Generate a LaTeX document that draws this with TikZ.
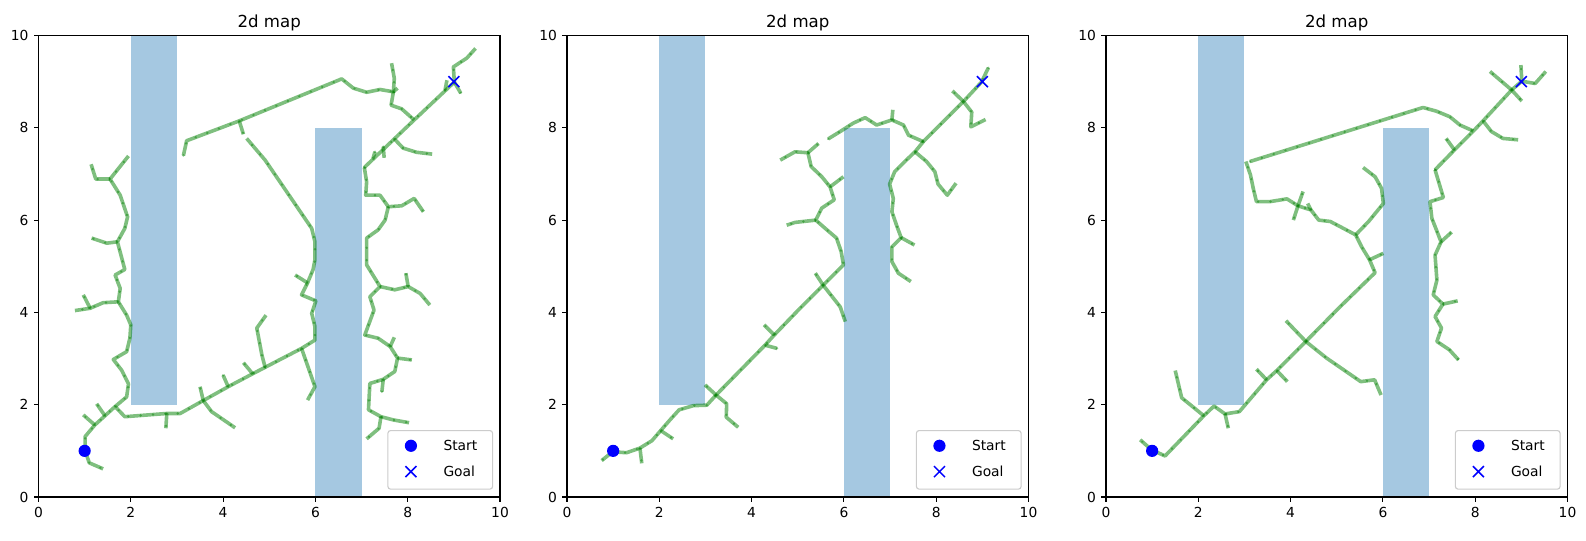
\documentclass[tikz,border=0pt]{standalone}
\usepackage{fontspec}
\setmainfont{DejaVu Sans}
\usetikzlibrary{shapes.misc}
\definecolor{ObstBlue}{HTML}{A5C8E1}
\definecolor{TreeGreen}{HTML}{008000}
\definecolor{MarkBlue}{HTML}{0000FF}
\definecolor{LegEdge}{HTML}{CCCCCC}

% obstacles of the 2d map
\newcommand{\mapobst}{%
  \fill[obst] (2,2) rectangle (3,10);
  \fill[obst] (6,0) rectangle (7,8);
}
% frame, ticks, title, start/goal and legend of one panel
\newcommand{\mapaxes}[1]{%
  \draw[spine] (0,0) rectangle (10,10);
  \foreach \t in {0,2,...,10} {
    \draw[tickmark] (\t,0) -- (\t,-0.105);
    \draw[tickmark] (0,\t) -- (-0.105,\t);
    \node[ticklbl,anchor=north] (#1x\t) at (\t,-0.21) {\t};
    \node[ticklbl,anchor=east] (#1y\t) at (-0.21,\t) {\t};
  }
  \node[title] (#1title) at (5,10.18) {2d map};
  \node[startdot] (#1start) at (1,1) {};
  \node[goalx] (#1goal) at (9,9) {};
  \draw[legframe] (7.57,0.17) rectangle (9.84,1.44);
  \node[startdot] (#1legs) at (8.07,1.11) {};
  \node[goalx] (#1legg) at (8.07,0.55) {};
  \node[legtext] (#1legst) at (8.77,1.11) {Start};
  \node[legtext] (#1leggo) at (8.77,0.55) {Goal};
}

\begin{document}
\begin{tikzpicture}[
  obst/.style={fill=ObstBlue},
  tree/.style={draw=TreeGreen,draw opacity=0.5,line width=2.6pt,line join=round,
    postaction={draw=TreeGreen,draw opacity=0.45,line width=1.9pt,line cap=round,dash pattern=on 0.05pt off 8.9pt}},
  spine/.style={draw=black,line width=0.8pt},
  tickmark/.style={draw=black,line width=0.8pt},
  ticklbl/.style={inner sep=0pt,font=\fontsize{10}{12}\selectfont},
  title/.style={anchor=base,inner sep=0pt,font=\fontsize{12}{14}\selectfont},
  startdot/.style={circle,fill=MarkBlue,inner sep=0pt,minimum size=3.1mm},
  goalx/.style={cross out,draw=MarkBlue,line width=1.1pt,inner sep=0pt,minimum size=2.4mm},
  legframe/.style={draw=LegEdge,line width=0.8pt,fill=white,fill opacity=0.8,rounded corners=2pt},
  legtext/.style={anchor=west,inner sep=0pt,font=\fontsize{10}{12}\selectfont}
]
\useasboundingbox (0,0) rectangle (402.84mm,137.16mm);

% panel 1
\begin{scope}[xshift=9.78mm,yshift=10.92mm,x=11.722mm,y=11.722mm]
\mapobst
\draw[tree] (1.01,1.00) -- (1.10,0.74) -- (1.40,0.61);
\draw[tree] (1.01,1.00) -- (1.01,1.31) -- (1.22,1.56) -- (1.44,1.76) -- (1.66,1.96) -- (1.87,1.74) -- (2.78,1.81) -- (3.07,1.81) -- (3.57,2.09) -- (4.11,2.39) -- (4.64,2.67) -- (4.91,2.81) -- (5.70,3.22) -- (5.99,3.40) -- (5.99,3.69) -- (5.92,3.98) -- (6.01,4.25) -- (5.70,4.38) -- (5.83,4.64) -- (5.95,4.93) -- (5.99,5.14) -- (5.99,5.53) -- (5.92,5.82) -- (4.91,7.30) -- (4.51,7.77);
\draw[tree] (4.35,8.15) -- (4.44,7.86);
\draw[tree] (1.22,1.56) -- (0.97,1.78);
\draw[tree] (1.44,1.76) -- (1.26,2.02);
\draw[tree] (2.78,1.81) -- (2.76,1.49);
\draw[tree] (3.57,2.09) -- (3.50,2.39);
\draw[tree] (3.57,2.09) -- (3.75,1.85) -- (4.26,1.50);
\draw[tree] (4.11,2.39) -- (4.00,2.64);
\draw[tree] (4.64,2.67) -- (4.44,2.91);
\draw[tree] (4.91,2.81) -- (4.84,3.08) -- (4.73,3.66) -- (4.93,3.94);
\draw[tree] (5.70,3.22) -- (5.99,2.39) -- (5.83,2.10);
\draw[tree] (5.83,4.64) -- (5.56,4.81);
\draw[tree] (1.66,1.96) -- (1.91,2.17) -- (1.95,2.45) -- (1.80,2.75) -- (1.62,2.98) -- (1.91,3.15) -- (1.98,3.44) -- (2.00,3.73) -- (1.91,3.94) -- (1.73,4.23) -- (1.77,4.52) -- (1.66,4.81) -- (1.87,4.93) -- (1.71,5.53) -- (1.87,5.82) -- (1.93,6.07) -- (1.77,6.54) -- (1.55,6.89) -- (1.95,7.39);
\draw[tree] (1.55,6.89) -- (1.24,6.89) -- (1.14,7.21);
\draw[tree] (1.71,5.53) -- (1.48,5.50) -- (1.15,5.61);
\draw[tree] (1.73,4.23) -- (1.40,4.21) -- (1.12,4.09) -- (0.79,4.04);
\draw[tree] (1.12,4.09) -- (0.97,4.38);
\draw[tree] (3.14,7.40) -- (3.21,7.72) -- (4.35,8.15) -- (6.57,9.06) -- (6.82,8.86) -- (7.11,8.77) -- (7.40,8.83) -- (7.69,8.78) -- (7.71,9.07) -- (7.65,9.40);
\draw[tree] (7.69,8.78) -- (7.78,8.86);
\draw[tree] (7.69,8.78) -- (7.64,8.49) -- (7.87,8.41) -- (8.14,8.17);
\draw[tree] (7.06,7.14) -- (7.71,7.76) -- (8.14,8.17) -- (9.01,8.99) -- (8.99,9.32) -- (9.28,9.51) -- (9.47,9.72);
\draw[tree] (9.01,8.99) -- (9.15,8.75);
\draw[tree] (8.81,8.82) -- (8.85,9.03);
\draw[tree] (7.71,7.76) -- (7.90,7.56) -- (8.19,7.47) -- (8.53,7.43);
\draw[tree] (7.29,7.48) -- (7.25,7.34);
\draw[tree] (7.47,7.59) -- (7.49,7.35);
\draw[tree] (7.06,7.14) -- (7.11,6.83) -- (7.09,6.54) -- (7.40,6.54) -- (7.58,6.29) -- (7.87,6.31) -- (8.14,6.47) -- (8.34,6.18);
\draw[tree] (7.58,6.29) -- (7.51,6.00) -- (7.36,5.79) -- (7.11,5.61) -- (7.11,5.03) -- (7.40,4.56) -- (7.18,4.34) -- (7.27,4.05) -- (7.07,3.51) -- (7.36,3.44) -- (7.62,3.26) -- (7.78,3.01) -- (7.72,2.72) -- (7.47,2.55) -- (7.18,2.46) -- (7.15,1.89) -- (7.42,1.74) -- (7.69,1.67) -- (8.03,1.61);
\draw[tree] (7.40,4.56) -- (7.72,4.49) -- (8.01,4.56) -- (8.27,4.41) -- (8.48,4.16);
\draw[tree] (8.01,4.56) -- (7.96,4.85);
\draw[tree] (7.62,3.26) -- (7.71,3.46);
\draw[tree] (7.78,3.01) -- (8.09,2.97);
\draw[tree] (7.47,2.55) -- (7.44,2.28);
\draw[tree] (7.42,1.74) -- (7.38,1.49) -- (7.11,1.26);
\mapaxes{a}
\end{scope}

% panel 2
\begin{scope}[xshift=144.02mm,yshift=10.92mm,x=11.722mm,y=11.722mm]
\mapobst
\draw[tree] (0.99,0.98) -- (0.75,0.79);
\draw[tree] (0.99,0.98) -- (1.29,0.96) -- (1.58,1.06) -- (1.84,1.22) -- (2.03,1.44) -- (2.23,1.67) -- (2.43,1.89) -- (2.74,1.98) -- (3.03,1.99) -- (3.23,2.21) -- (4.29,3.29) -- (4.49,3.51) -- (5.05,4.09) -- (5.55,4.59) -- (5.99,5.03) -- (5.94,5.32) -- (5.84,5.61) -- (5.63,5.79) -- (5.39,6.00) -- (5.52,6.26) -- (5.79,6.44) -- (5.70,6.72) -- (5.52,6.94) -- (5.29,7.16) -- (5.22,7.46) -- (4.94,7.48) -- (4.62,7.30);
\draw[tree] (1.58,1.06) -- (1.62,0.73);
\draw[tree] (2.03,1.44) -- (2.30,1.26);
\draw[tree] (3.23,2.21) -- (2.99,2.43);
\draw[tree] (3.23,2.21) -- (3.46,2.02) -- (3.45,1.73) -- (3.71,1.51);
\draw[tree] (4.29,3.29) -- (4.55,3.22);
\draw[tree] (4.49,3.51) -- (4.27,3.73);
\draw[tree] (5.55,4.59) -- (5.38,4.85);
\draw[tree] (5.55,4.59) -- (5.92,4.12) -- (6.03,3.80);
\draw[tree] (5.22,7.46) -- (5.45,7.66);
\draw[tree] (5.70,6.72) -- (5.99,6.94);
\draw[tree] (5.39,6.00) -- (4.94,5.95) -- (4.76,5.89);
\draw[tree] (5.66,7.76) -- (5.92,7.92) -- (6.20,8.10) -- (6.46,8.22) -- (6.71,8.06) -- (7.04,8.17) -- (7.29,8.06) -- (7.40,7.84) -- (7.72,7.70);
\draw[tree] (7.04,8.17) -- (7.06,8.39);
\draw[tree] (7.72,7.70) -- (8.59,8.57) -- (8.98,8.99) -- (9.13,9.30);
\draw[tree] (8.59,8.57) -- (8.35,8.80);
\draw[tree] (8.59,8.57) -- (8.77,8.34) -- (8.75,8.02) -- (9.07,8.18);
\draw[tree] (7.72,7.70) -- (7.54,7.48) -- (7.32,7.27) -- (7.10,7.05) -- (6.99,6.78) -- (7.07,6.47) -- (7.04,6.18) -- (7.14,5.89) -- (7.24,5.62) -- (7.04,5.42) -- (7.04,5.10) -- (7.18,4.85) -- (7.45,4.67);
\draw[tree] (7.24,5.62) -- (7.53,5.46);
\draw[tree] (7.54,7.48) -- (7.79,7.27) -- (7.97,7.05) -- (8.04,6.78) -- (8.24,6.54) -- (8.43,6.80);
\mapaxes{b}
\end{scope}

% panel 3
\begin{scope}[xshift=280.92mm,yshift=10.92mm,x=11.722mm,y=11.722mm]
\mapobst
\draw[tree] (0.99,1.02) -- (0.74,1.24);
\draw[tree] (0.99,1.02) -- (1.28,0.89) -- (2.12,1.76) -- (2.34,1.97) -- (2.58,1.80) -- (2.89,1.85) -- (3.48,2.54) -- (3.70,2.74) -- (4.33,3.37) -- (5.07,4.12) -- (5.83,4.86) -- (5.71,5.14) -- (5.54,5.42) -- (5.41,5.68) -- (5.07,5.86) -- (4.86,5.97) -- (4.61,6.00) -- (4.44,6.22) -- (4.16,6.31) -- (3.92,6.46) -- (3.55,6.40) -- (3.26,6.40) -- (3.19,6.69) -- (3.13,6.98) -- (3.03,7.27);
\draw[tree] (2.12,1.76) -- (1.64,2.15) -- (1.50,2.74);
\draw[tree] (2.58,1.80) -- (2.65,1.49);
\draw[tree] (3.48,2.54) -- (3.26,2.77);
\draw[tree] (3.70,2.74) -- (3.93,2.50);
\draw[tree] (4.33,3.37) -- (3.90,3.82);
\draw[tree] (4.33,3.37) -- (4.78,3.01) -- (5.52,2.50) -- (5.82,2.54) -- (5.96,2.21);
\draw[tree] (5.71,5.14) -- (6.01,5.28);
\draw[tree] (5.41,5.68) -- (5.69,5.97) -- (6.01,6.36) -- (5.97,6.69) -- (5.83,6.94) -- (5.57,7.14);
\draw[tree] (4.16,6.31) -- (4.27,6.62);
\draw[tree] (4.16,6.31) -- (4.06,6.00);
\draw[tree] (4.44,6.22) -- (4.37,6.36);
\draw[tree] (3.12,7.27) -- (6.87,8.44) -- (7.16,8.36) -- (7.45,8.24) -- (7.67,8.06) -- (7.96,7.93);
\draw[tree] (7.13,7.09) -- (7.55,7.52) -- (7.96,7.93) -- (8.17,8.15) -- (8.79,8.82) -- (9.01,9.01) -- (8.99,9.36);
\draw[tree] (9.01,9.01) -- (9.30,8.96) -- (9.53,9.22);
\draw[tree] (8.79,8.82) -- (8.32,9.22);
\draw[tree] (8.79,8.82) -- (9.01,8.58);
\draw[tree] (8.17,8.15) -- (8.35,7.92) -- (8.60,7.77) -- (8.93,7.74);
\draw[tree] (7.55,7.52) -- (7.37,7.77);
\draw[tree] (7.13,7.09) -- (7.31,6.49) -- (7.02,6.40) -- (7.06,6.04) -- (7.26,5.53) -- (7.13,5.24) -- (7.17,4.70) -- (7.09,4.38) -- (7.30,4.18) -- (7.13,3.91) -- (7.27,3.66) -- (7.17,3.37) -- (7.44,3.19) -- (7.64,2.97);
\draw[tree] (7.26,5.53) -- (7.49,5.74);
\draw[tree] (7.30,4.18) -- (7.62,4.25);
\mapaxes{c}
\end{scope}
\end{tikzpicture}
\end{document}
